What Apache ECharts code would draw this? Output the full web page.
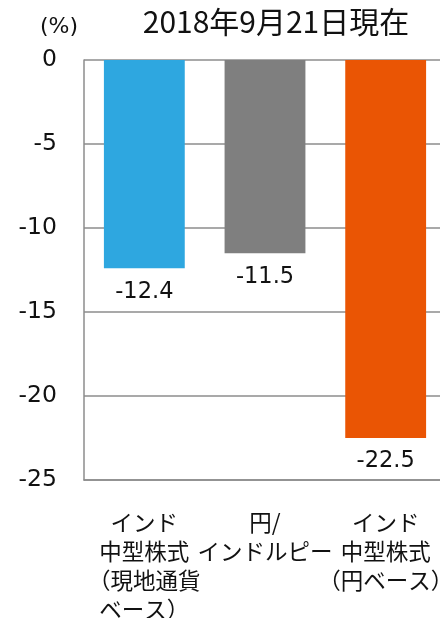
<!DOCTYPE html>
<html>
<head>
<meta charset="utf-8">
<script src="https://cdn.jsdelivr.net/npm/echarts@6/dist/echarts.min.js"></script>
<style>html,body{margin:0;padding:0;background:#fff}#c{width:440px;height:618px}</style>
</head>
<body>
<div id="c"></div>
<script>
const categories = ['インド\n中型株式\n（現地通貨\nベース）', '円/\nインドルピー', 'インド\n中型株式\n（円ベース）'];
const values = [-12.4, -11.5, -22.5];
const colors = ['#2EA7E0', '#7F7F7F', '#EA5504'];
const yTicks = { min: -25, max: 0, interval: 5 };
const titleText = '2018年9月21日現在';
const unitText = '(%)';

const numFont = 'DejaVu Sans';
const jpFont = 'Noto Sans CJK JP';
const chart = echarts.init(document.getElementById('c'), null, { renderer: 'canvas' });
chart.setOption({
  animation: false,
  title: {
    text: titleText, left: 271, top: 2, textAlign: 'center',
    textStyle: { fontFamily: jpFont, fontSize: 30, fontWeight: 'normal', color: '#111' }
  },
  graphic: [{
    type: 'text', x: 40, y: 16, z: 100,
    style: { text: unitText, font: '22px "DejaVu Sans"', fill: '#111' }
  }],
  grid: { left: 84, top: 60, width: 362, height: 420, containLabel: false, outerBoundsMode: 'none' },
  xAxis: {
    type: 'category', data: categories,
    axisLine: { onZero: false, lineStyle: { color: '#8c8c8c', width: 1.5 } },
    axisTick: { show: false },
    axisLabel: { interval: 0, margin: 28, fontSize: 22.5, lineHeight: 29, fontFamily: jpFont, color: '#111' }
  },
  yAxis: {
    type: 'value', min: yTicks.min, max: yTicks.max, interval: yTicks.interval,
    axisLine: { show: true, lineStyle: { color: '#8c8c8c', width: 1.5 } },
    axisTick: { show: false },
    splitLine: { lineStyle: { color: '#8c8c8c', width: 1.5 } },
    axisLabel: { margin: 27, fontSize: 23.5, fontFamily: numFont, color: '#111' }
  },
  series: [{
    type: 'bar', barWidth: '67%',
    data: values.map((v, i) => ({ value: v, itemStyle: { color: colors[i] } })),
    label: { show: true, position: 'bottom', distance: 12, fontSize: 22.5, fontFamily: numFont, color: '#111' }
  }]
});
</script>
</body>
</html>
